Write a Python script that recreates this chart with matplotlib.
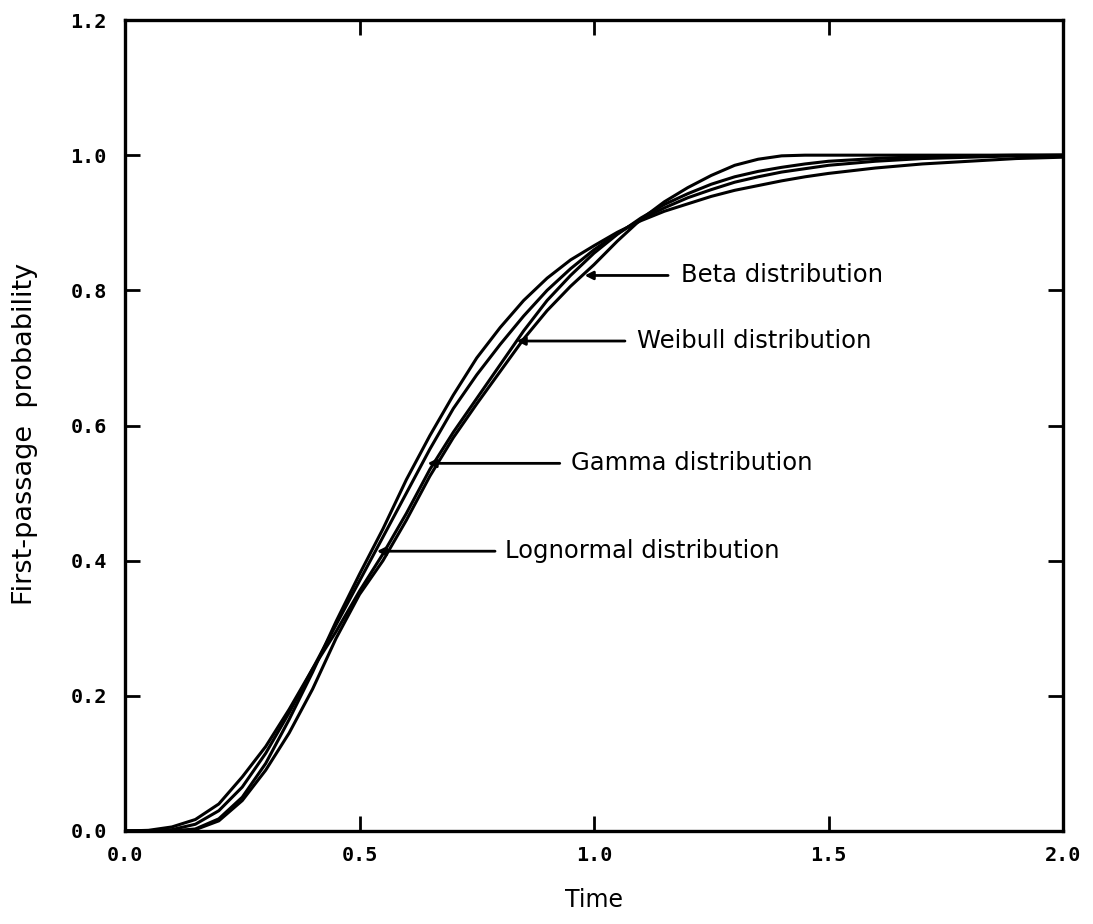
import numpy as np
import matplotlib
matplotlib.use("Agg")
import matplotlib.pyplot as plt

# ---- data ----
t_grid = [0.0, 0.05, 0.1, 0.15, 0.2, 0.25, 0.3, 0.35, 0.4, 0.45, 0.5, 0.55, 0.6,
          0.65, 0.7, 0.75, 0.8, 0.85, 0.9, 0.95, 1.0, 1.05, 1.1, 1.15, 1.2, 1.25,
          1.3, 1.35, 1.4, 1.45, 1.5, 1.6, 1.7, 1.8, 1.9, 2.0]

lognormal = [0.0, 0.0, 0.0, 0.003, 0.018, 0.05, 0.10, 0.165, 0.235, 0.31, 0.38, 0.447, 0.52,
             0.585, 0.645, 0.70, 0.745, 0.785, 0.818, 0.845, 0.866, 0.886, 0.903, 0.917, 0.928, 0.939,
             0.948, 0.955, 0.962, 0.968, 0.973, 0.981, 0.987, 0.991, 0.995, 0.997]

gamma = [0.0, 0.0, 0.002, 0.01, 0.03, 0.065, 0.115, 0.175, 0.24, 0.305, 0.37, 0.435, 0.50,
         0.565, 0.625, 0.675, 0.72, 0.762, 0.80, 0.832, 0.86, 0.884, 0.905, 0.922, 0.937, 0.949,
         0.96, 0.968, 0.975, 0.98, 0.985, 0.991, 0.995, 0.997, 0.999, 1.0]

weibull = [0.0, 0.001, 0.006, 0.017, 0.04, 0.08, 0.125, 0.18, 0.24, 0.295, 0.355, 0.41, 0.47,
           0.535, 0.59, 0.64, 0.69, 0.74, 0.785, 0.822, 0.855, 0.883, 0.907, 0.927, 0.943, 0.957,
           0.968, 0.976, 0.982, 0.987, 0.991, 0.995, 0.998, 0.999, 1.0, 1.0]

beta = [0.0, 0.0, 0.0, 0.002, 0.015, 0.045, 0.09, 0.145, 0.21, 0.285, 0.35, 0.40, 0.46,
        0.525, 0.582, 0.632, 0.68, 0.728, 0.77, 0.806, 0.838, 0.873, 0.905, 0.931, 0.952, 0.970,
        0.985, 0.994, 0.999, 1.0, 1.0, 1.0, 1.0, 1.0, 1.0, 1.0]

labels = ["Beta distribution", "Weibull distribution", "Gamma distribution", "Lognormal distribution"]
arrow_tip_x = [0.98, 0.835, 0.645, 0.537]
arrow_tip_y = [0.822, 0.725, 0.544, 0.414]
arrow_tail_x = [1.158, 1.066, 0.927, 0.789]
text_x = [1.185, 1.092, 0.951, 0.810]

x_ticks = [0.0, 0.5, 1.0, 1.5, 2.0]
y_ticks = [0.0, 0.2, 0.4, 0.6, 0.8, 1.0, 1.2]

# ---- figure ----
fig = plt.figure(figsize=(10.93, 9.24), dpi=100)
ax = fig.add_axes([125 / 1093, 93 / 924, 938 / 1093, 811 / 924])

for series in (lognormal, gamma, weibull, beta):
    ax.plot(t_grid, series, color="black", lw=2.2, solid_joinstyle="round",
            solid_capstyle="round")

for lab, tx, ty, tail, txx in zip(labels, arrow_tip_x, arrow_tip_y, arrow_tail_x, text_x):
    ax.annotate("", xy=(tx, ty), xytext=(tail, ty),
                arrowprops=dict(arrowstyle="-|>", color="black", lw=2.0,
                                mutation_scale=12, shrinkA=0, shrinkB=0))
    ax.text(txx, ty, lab, fontsize=17.5, family="DejaVu Sans", va="center", ha="left")

ax.set_xlim(0, 2.0)
ax.set_ylim(0, 1.2)
ax.set_xticks(x_ticks)
ax.set_yticks(y_ticks)
ax.set_xticklabels([f"{v:.1f}" for v in x_ticks])
ax.set_yticklabels([f"{v:.1f}" for v in y_ticks])

for sp in ax.spines.values():
    sp.set_linewidth(2.4)

ax.tick_params(axis="both", direction="in", length=11, width=2.0,
               top=True, right=True)
ax.tick_params(axis="x", pad=11)
ax.tick_params(axis="y", pad=13)
for lbl in ax.get_xticklabels() + ax.get_yticklabels():
    lbl.set_family("DejaVu Sans Mono")
    lbl.set_fontweight("bold")
    lbl.set_fontsize(14.5)

ax.set_xlabel("Time", fontsize=17, family="DejaVu Sans")
ax.set_ylabel("First-passage  probability", fontsize=19.5, family="DejaVu Sans")
ax.xaxis.set_label_coords(0.5, -0.085)
ax.yaxis.set_label_coords(-0.1066, 0.4895)
ax.xaxis.label.set_va("center")
ax.yaxis.label.set_va("center")

fig.savefig("out.png", dpi=100)
